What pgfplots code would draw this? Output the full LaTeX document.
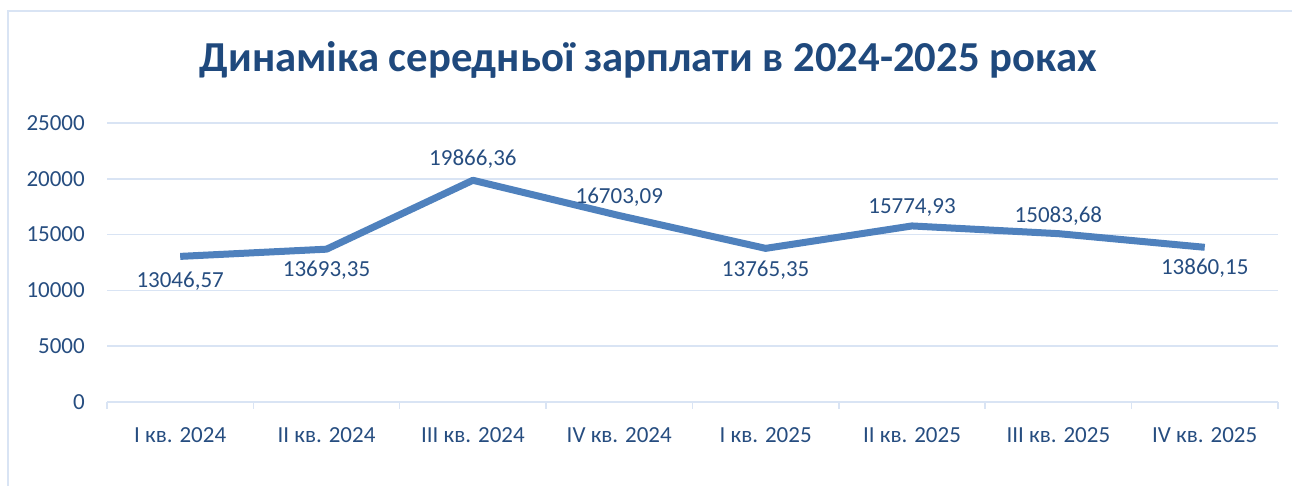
\documentclass[border=0pt]{standalone}
\usepackage{fontspec}
\setmainfont{Carlito}
\usepackage{pgfplots}
\pgfplotsset{compat=1.18}
\usepackage{pgfplotstable}
\definecolor{lineblue}{HTML}{4F81BD}
\definecolor{txtblue}{HTML}{264D80}
\definecolor{titleblue}{HTML}{1F497D}
\definecolor{gridblue}{HTML}{D9E4F4}
\pgfplotstableread{
x y lab dy
0 13046.57 13046,57 -25
1 13693.35 13693,35 -21
2 19866.36 19866,36 21
3 16703.09 16703,09 18
4 13765.35 13765,35 -22
5 15774.93 15774,93 18
6 15083.68 15083,68 18
7 13860.15 13860,15 -21
}\datatable
\begin{document}
\begin{tikzpicture}[x=1bp,y=1bp]
\useasboundingbox (0,0) rectangle (1292,486);
\draw[gridblue, line width=2bp] (8,0) -- (8,475) -- (1292,475);
\node[font=\fontsize{42.7bp}{46bp}\selectfont\bfseries, text=titleblue] at (648,426) {Динаміка середньої зарплати в 2024-2025 роках};
\begin{axis}[
  at={(107bp,84bp)}, anchor=south west, scale only axis,
  width=1171bp, height=279bp,
  xmin=-0.5, xmax=7.5, ymin=0, ymax=25000,
  ytick={0,5000,...,25000},
  xtick={0,...,7},
  xticklabels={I кв. 2024, II кв. 2024, III кв. 2024, IV кв. 2024, I кв. 2025, II кв. 2025, III кв. 2025, IV кв. 2025},
  minor xtick={-0.5,0.5,...,7.5},
  major tick length=0pt,
  minor tick length=7bp,
  tick align=outside,
  minor tick style={gridblue, line width=1.5bp},
  axis x line*=bottom, axis y line*=left,
  x axis line style={gridblue, line width=1.5bp, -},
  y axis line style={draw=none},
  ymajorgrids, major grid style={gridblue, line width=1.5bp},
  scaled y ticks=false,
  /pgf/number format/assume math mode=true,
  yticklabel={\pgfmathprintnumber[fixed,1000 sep={}]{\tick}},
  tick label style={font=\fontsize{23bp}{26bp}\selectfont, text=txtblue},
  yticklabel style={inner sep=0pt, anchor=east, xshift=-22bp},
  xticklabel style={inner sep=0pt, anchor=base, yshift=-41bp},
  clip=false,
]
\addplot[lineblue, line width=7bp, line join=round, mark=none,
  nodes near coords, point meta=explicit symbolic,
  visualization depends on={\thisrow{dy}\as\dy},
  nodes near coords style={font=\fontsize{23bp}{26bp}\selectfont, text=txtblue, inner sep=0pt, anchor=center, yshift=\dy bp}]
  table[x=x, y=y, meta=lab] {\datatable};
\end{axis}
\end{tikzpicture}
\end{document}
